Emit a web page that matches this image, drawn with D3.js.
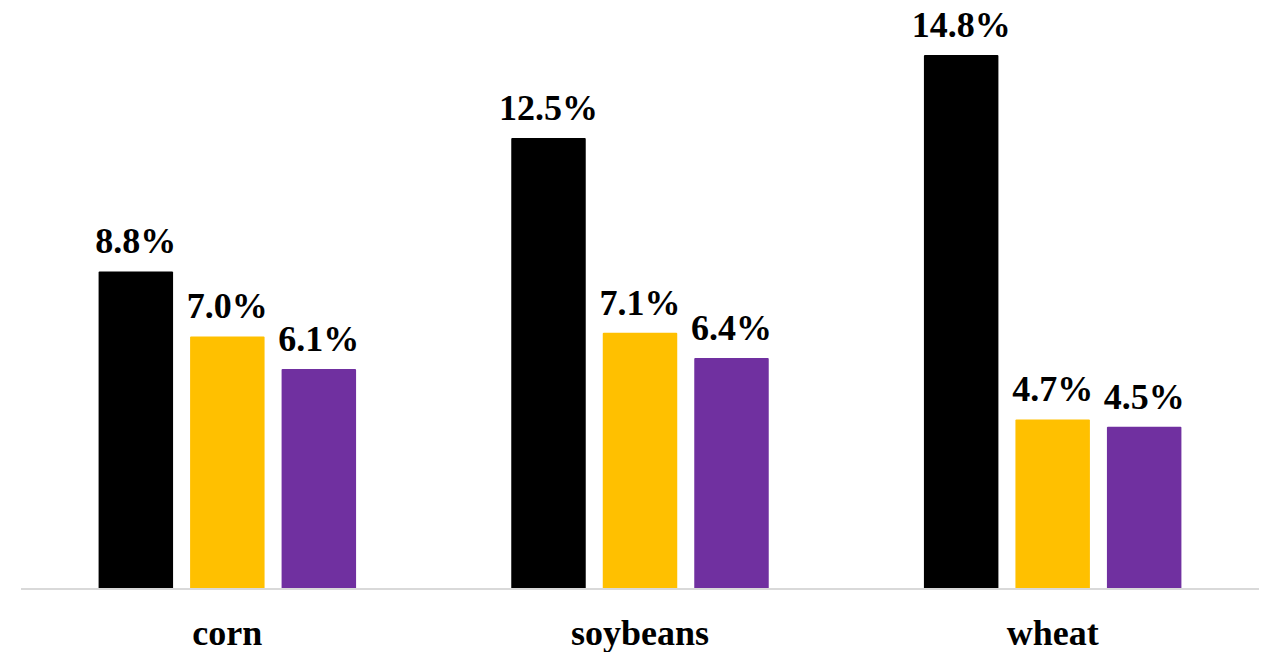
<!DOCTYPE html>
<html>
<head>
<meta charset="utf-8">
<script src="https://cdn.jsdelivr.net/npm/d3@7"></script>
<style>
  body { margin: 0; background: #fff; }
  text { font-family: "Liberation Serif", "Times New Roman", serif; font-weight: bold; fill: #000; }
</style>
</head>
<body>
<svg></svg>
<script>
const WIDTH = 1265
const HEIGHT = 652

const categories = ['corn', 'soybeans', 'wheat']
const series = ['s1', 's2', 's3']
const s1Values = [8.8, 12.5, 14.8]
const s2Values = [7.0, 7.1, 4.7]
const s3Values = [6.1, 6.4, 4.5]
const colors = ['#000000', '#FFC000', '#7030A0']

const rows = categories.map((c, i) => ({
  cat: c,
  vals: [s1Values[i], s2Values[i], s3Values[i]]
}))

const svg = d3.select('svg')
  .attr('width', WIDTH)
  .attr('height', HEIGHT)

const x0 = d3.scaleBand()
  .domain(categories)
  .range([21, 1259])
  .padding(0)

const x1 = d3.scaleBand()
  .domain(series)
  .range([0, x0.bandwidth()])
  .paddingInner(0.186)
  .paddingOuter(0.848)

const y = d3.scaleLinear()
  .domain([0, 14.8])
  .range([589, 55])

const groups = svg.append('g').selectAll('g')
  .data(rows)
  .enter().append('g')
  .attr('transform', d => `translate(${x0(d.cat)},0)`)

groups.selectAll('rect')
  .data(d => d.vals.map((v, i) => ({ s: series[i], v: v, c: colors[i] })))
  .enter().append('rect')
  .attr('x', d => x1(d.s))
  .attr('y', d => y(d.v))
  .attr('width', x1.bandwidth())
  .attr('height', d => y(0) - y(d.v))
  .attr('rx', 1)
  .attr('fill', d => d.c)

groups.selectAll('text.val')
  .data(d => d.vals.map((v, i) => ({ s: series[i], v: v })))
  .enter().append('text')
  .attr('class', 'val')
  .attr('x', d => x1(d.s) + x1.bandwidth() / 2)
  .attr('y', d => y(d.v) - 18)
  .attr('text-anchor', 'middle')
  .attr('font-size', 36)
  .text(d => d.v.toFixed(1) + '%')

// baseline
svg.append('line')
  .attr('x1', 21)
  .attr('x2', 1259)
  .attr('y1', y(0))
  .attr('y2', y(0))
  .attr('stroke', '#d9d9d9')
  .attr('stroke-width', 2)

const xAxis = d3.axisBottom(x0).tickSize(0).tickPadding(0)
const ax = svg.append('g')
  .attr('transform', `translate(0,${y(0)})`)
  .call(xAxis)
ax.select('.domain').remove()
ax.selectAll('text')
  .attr('dy', 0)
  .attr('y', 56)
  .attr('font-size', 36)
  .style('font-family', '"Liberation Serif", "Times New Roman", serif')
  .style('font-weight', 'bold')
  .attr('fill', '#000')
</script>
</body>
</html>
